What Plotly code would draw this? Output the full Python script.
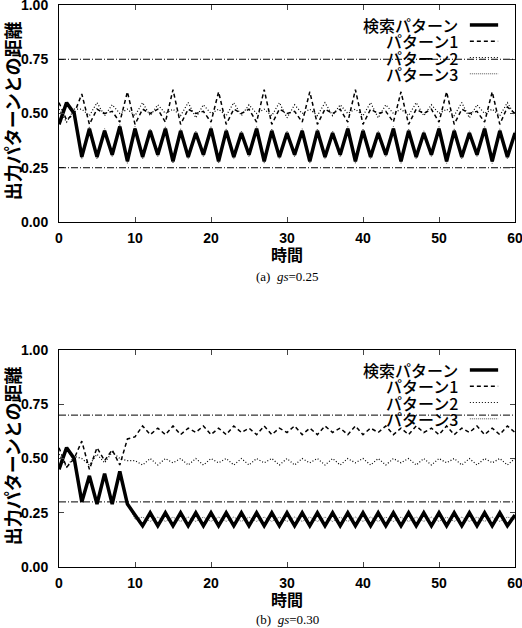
import plotly.graph_objects as go
from plotly.subplots import make_subplots

# time steps on the x axis
time = list(range(61))

labels = ["検索パターン", "パターン1", "パターン2", "パターン3"]

# (a) gs=0.25
search_a = [
    0.45, 0.55, 0.50, 0.30, 0.43, 0.30, 0.42, 0.31, 0.44, 0.28,
    0.43, 0.30, 0.42, 0.31, 0.43, 0.28, 0.42, 0.30, 0.41, 0.31,
    0.43, 0.28, 0.42, 0.30, 0.41, 0.31, 0.43, 0.28, 0.42, 0.30,
    0.41, 0.31, 0.42, 0.28, 0.42, 0.30, 0.41, 0.31, 0.43, 0.28,
    0.42, 0.30, 0.41, 0.31, 0.43, 0.28, 0.42, 0.30, 0.41, 0.31,
    0.43, 0.28, 0.42, 0.30, 0.41, 0.31, 0.43, 0.28, 0.42, 0.30,
    0.41]
pat1_a = [
    0.55, 0.47, 0.50, 0.59, 0.45, 0.52, 0.50, 0.51, 0.46, 0.60,
    0.45, 0.52, 0.50, 0.52, 0.46, 0.61, 0.45, 0.52, 0.50, 0.51,
    0.46, 0.60, 0.45, 0.52, 0.50, 0.52, 0.46, 0.61, 0.45, 0.52,
    0.50, 0.51, 0.46, 0.60, 0.45, 0.52, 0.50, 0.52, 0.46, 0.61,
    0.45, 0.52, 0.50, 0.51, 0.46, 0.60, 0.45, 0.52, 0.50, 0.52,
    0.46, 0.60, 0.45, 0.52, 0.50, 0.51, 0.46, 0.60, 0.45, 0.53,
    0.50]
pat2_a = [
    0.52, 0.46, 0.52, 0.52, 0.49, 0.55, 0.49, 0.54, 0.50, 0.52,
    0.49, 0.55, 0.49, 0.54, 0.50, 0.52, 0.49, 0.55, 0.48, 0.54,
    0.50, 0.52, 0.49, 0.55, 0.49, 0.54, 0.50, 0.52, 0.49, 0.55,
    0.48, 0.54, 0.50, 0.52, 0.49, 0.55, 0.49, 0.54, 0.50, 0.52,
    0.49, 0.55, 0.48, 0.54, 0.50, 0.52, 0.49, 0.55, 0.49, 0.54,
    0.50, 0.52, 0.49, 0.55, 0.48, 0.54, 0.50, 0.52, 0.49, 0.55,
    0.49]
pat3_a = [
    0.46, 0.54, 0.49, 0.29, 0.44, 0.29, 0.43, 0.30, 0.45, 0.27,
    0.44, 0.29, 0.43, 0.30, 0.44, 0.27, 0.43, 0.29, 0.42, 0.30,
    0.44, 0.27, 0.43, 0.29, 0.42, 0.30, 0.44, 0.27, 0.43, 0.29,
    0.42, 0.30, 0.43, 0.27, 0.43, 0.29, 0.42, 0.30, 0.44, 0.27,
    0.43, 0.29, 0.42, 0.30, 0.44, 0.27, 0.43, 0.29, 0.42, 0.30,
    0.44, 0.27, 0.43, 0.29, 0.42, 0.30, 0.44, 0.27, 0.43, 0.29,
    0.42]
bounds_a = [0.75, 0.25]

# (b) gs=0.30
search_b = [
    0.45, 0.55, 0.50, 0.30, 0.42, 0.29, 0.43, 0.29, 0.44, 0.29,
    0.24, 0.19, 0.25, 0.19, 0.25, 0.19, 0.25, 0.19, 0.25, 0.19,
    0.25, 0.19, 0.25, 0.19, 0.25, 0.19, 0.25, 0.19, 0.25, 0.19,
    0.25, 0.19, 0.25, 0.19, 0.25, 0.19, 0.25, 0.19, 0.25, 0.19,
    0.25, 0.19, 0.25, 0.19, 0.25, 0.19, 0.25, 0.19, 0.25, 0.19,
    0.25, 0.19, 0.25, 0.19, 0.25, 0.19, 0.25, 0.19, 0.25, 0.19,
    0.24]
pat1_b = [
    0.55, 0.46, 0.50, 0.58, 0.45, 0.55, 0.49, 0.54, 0.47, 0.59,
    0.60, 0.65, 0.61, 0.64, 0.61, 0.65, 0.61, 0.64, 0.62, 0.65,
    0.61, 0.64, 0.61, 0.65, 0.62, 0.64, 0.61, 0.65, 0.61, 0.64,
    0.62, 0.65, 0.61, 0.64, 0.61, 0.65, 0.62, 0.64, 0.61, 0.65,
    0.61, 0.64, 0.62, 0.65, 0.61, 0.64, 0.61, 0.65, 0.62, 0.64,
    0.61, 0.65, 0.61, 0.64, 0.62, 0.65, 0.61, 0.64, 0.61, 0.65,
    0.62]
pat2_b = [
    0.52, 0.46, 0.51, 0.50, 0.47, 0.52, 0.48, 0.53, 0.50, 0.49,
    0.49, 0.47, 0.50, 0.47, 0.50, 0.48, 0.50, 0.47, 0.50, 0.47,
    0.50, 0.48, 0.50, 0.47, 0.50, 0.47, 0.50, 0.48, 0.50, 0.47,
    0.50, 0.47, 0.50, 0.48, 0.50, 0.47, 0.50, 0.47, 0.50, 0.48,
    0.50, 0.47, 0.50, 0.47, 0.50, 0.48, 0.50, 0.47, 0.50, 0.47,
    0.50, 0.48, 0.50, 0.47, 0.50, 0.47, 0.50, 0.48, 0.50, 0.47,
    0.50]
pat3_b = [
    0.46, 0.54, 0.49, 0.31, 0.41, 0.30, 0.42, 0.30, 0.43, 0.30,
    0.22, 0.23, 0.21, 0.23, 0.21, 0.23, 0.21, 0.23, 0.21, 0.23,
    0.21, 0.23, 0.21, 0.23, 0.21, 0.23, 0.21, 0.23, 0.21, 0.23,
    0.21, 0.23, 0.21, 0.23, 0.21, 0.23, 0.21, 0.23, 0.21, 0.23,
    0.21, 0.23, 0.21, 0.23, 0.21, 0.23, 0.21, 0.23, 0.21, 0.23,
    0.21, 0.23, 0.21, 0.23, 0.21, 0.23, 0.21, 0.23, 0.21, 0.23,
    0.22]
bounds_b = [0.70, 0.30]

captions = ["(a)  <i>gs</i>=0.25", "(b)  <i>gs</i>=0.30"]

SANS = "Liberation Sans, Noto Sans CJK JP, sans-serif"
JP = "Noto Sans CJK JP, sans-serif"

styles = [
    dict(color="black", width=3.5),
    dict(color="black", width=1.5, dash="4px,3px"),
    dict(color="black", width=1.2, dash="1px,2px"),
    dict(color="#555555", width=1, dash="1px,1px"),
]

fig = make_subplots(rows=2, cols=1)

panels = [
    (1, [search_a, pat1_a, pat2_a, pat3_a], bounds_a, captions[0], -55),
    (2, [search_b, pat1_b, pat2_b, pat3_b], bounds_b, captions[1], -52),
]

for row, series, bounds, cap, cap_shift in panels:
    # patterns first, search pattern drawn on top
    for i in [3, 2, 1, 0]:
        fig.add_trace(go.Scatter(x=time, y=series[i], mode="lines", name=labels[i],
                                 line=styles[i], showlegend=False), row=row, col=1)
    for b in bounds:
        fig.add_hline(y=b, line=dict(color="black", width=1, dash="7px,2px,1px,2px"), row=row, col=1)

    sfx = "" if row == 1 else "2"
    xd, yd = f"x{sfx} domain", f"y{sfx} domain"

    # gnuplot style key: label right aligned, line sample to the right
    for i, lab in enumerate(labels):
        ky = 0.908 - i * 0.075
        fig.add_annotation(x=0.879, y=ky, xref=xd, yref=yd, text=lab, showarrow=False,
                           xanchor="right", yanchor="middle",
                           font=dict(family=JP, size=16, color="black", weight=500))
        fig.add_shape(type="line", x0=0.901, x1=0.963, y0=ky, y1=ky, xref=xd, yref=yd,
                      line=styles[i])

    # y title, x title, caption
    fig.add_annotation(x=0, y=0.51, xref="paper", yref=yd, xshift=-47, text="出力パターンとの距離",
                       textangle=-90, showarrow=False, xanchor="center", yanchor="middle",
                       font=dict(family=JP, size=18, color="black", weight="bold"))
    fig.add_annotation(x=0.5, y=0, xref=xd, yref=yd, yshift=-32, text="時間", showarrow=False,
                       xanchor="center", yanchor="middle",
                       font=dict(family=JP, size=16, color="black", weight="bold"))
    fig.add_annotation(x=0.5, y=0, xref=xd, yref=yd, yshift=cap_shift, text=cap, showarrow=False,
                       xanchor="center", yanchor="middle",
                       font=dict(family="Liberation Serif, serif", size=13, color="black"))

fig.update_xaxes(range=[0, 60], dtick=10, ticks="inside", ticklen=5, mirror="allticks",
                 showline=True, linecolor="black", linewidth=1, showgrid=False, zeroline=False,
                 automargin=False, ticklabelstandoff=3, ticklabeloverflow="allow",
                 tickfont=dict(family=SANS, size=14, color="black", weight="bold"))
fig.update_yaxes(range=[0, 1], dtick=0.25, tickformat=".2f", ticks="inside", ticklen=5,
                 mirror="allticks", showline=True, linecolor="black", linewidth=1,
                 showgrid=False, zeroline=False, automargin=False, ticklabelstandoff=7,
                 ticklabeloverflow="allow",
                 tickfont=dict(family=SANS, size=14, color="black", weight="bold"))

fig.update_layout(
    width=522, height=628,
    margin=dict(l=59, r=7, t=5, b=61),
    paper_bgcolor="white", plot_bgcolor="white",
    showlegend=False,
    xaxis=dict(domain=[0, 1]), xaxis2=dict(domain=[0, 1]),
    yaxis=dict(domain=[0.6139, 1.0]), yaxis2=dict(domain=[0.0, 0.3861]),
)

# page body has a default 8px margin; drop it so the figure sits at the window corner
fig.write_html("out.html", config={"displayModeBar": False},
               post_script="document.body.style.margin='0px';")
